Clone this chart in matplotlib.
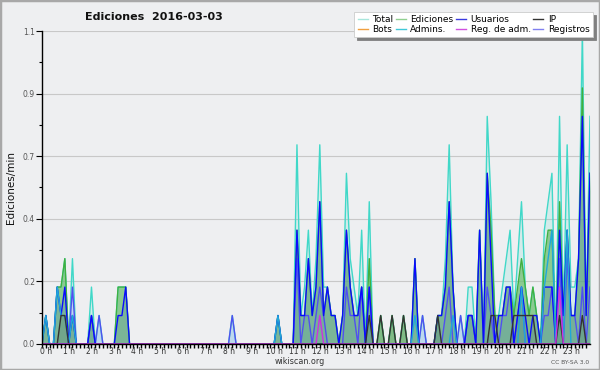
import numpy as np
import matplotlib.pyplot as plt
from matplotlib.lines import Line2D
from matplotlib.patches import Rectangle
import matplotlib.transforms as mtransforms

# edits per 10-minute bin, 145 bins from 0:00 to 24:00 (value/min = count/10)
total = [
    0, 1, 0, 0, 2, 2,  3, 0, 3, 0, 0, 0,  0, 2, 0, 1, 0, 0,  0, 0, 2, 2, 2, 0,
    0, 0, 0, 0, 0, 0,  0, 0, 0, 0, 0, 0,  0, 0, 0, 0, 0, 0,  0, 0, 0, 0, 0, 0,
    0, 0, 1, 0, 0, 0,  0, 0, 0, 0, 0, 0,  0, 0, 1, 0, 0, 0,  0, 7, 1, 2, 4, 1,
    3, 7, 2, 2, 1, 1,  0, 1, 6, 3, 2, 1,  4, 0, 5, 0, 0, 1,  0, 0, 1, 0, 0, 1,
    0, 0, 3, 0, 1, 0,  0, 0, 1, 1, 3, 7,  2, 0, 1, 0, 2, 2,  0, 4, 0, 8, 5, 1,
    1, 2, 3, 4, 1, 3,  5, 2, 1, 2, 1, 0,  4, 5, 6, 0, 8, 1,  7, 2, 2, 3, 11, 1,
    8,
]
ediciones = [
    0, 1, 0, 0, 2, 2,  3, 0, 1, 0, 0, 0,  0, 1, 0, 0, 0, 0,  0, 0, 2, 2, 2, 0,
    0, 0, 0, 0, 0, 0,  0, 0, 0, 0, 0, 0,  0, 0, 0, 0, 0, 0,  0, 0, 0, 0, 0, 0,
    0, 0, 0, 0, 0, 0,  0, 0, 0, 0, 0, 0,  0, 0, 1, 0, 0, 0,  0, 4, 1, 1, 3, 1,
    2, 5, 1, 2, 1, 1,  0, 1, 4, 2, 1, 1,  2, 0, 3, 0, 0, 1,  0, 0, 1, 0, 0, 1,
    0, 0, 3, 0, 0, 0,  0, 0, 1, 1, 2, 5,  2, 0, 0, 0, 1, 1,  0, 4, 0, 6, 4, 1,
    1, 1, 2, 2, 1, 2,  3, 2, 1, 2, 1, 0,  3, 4, 4, 0, 5, 1,  4, 1, 1, 3, 9, 1,
    6,
]
usuarios = [
    0, 1, 0, 0, 2, 1,  2, 0, 1, 0, 0, 0,  0, 1, 0, 0, 0, 0,  0, 0, 1, 1, 2, 0,
    0, 0, 0, 0, 0, 0,  0, 0, 0, 0, 0, 0,  0, 0, 0, 0, 0, 0,  0, 0, 0, 0, 0, 0,
    0, 0, 0, 0, 0, 0,  0, 0, 0, 0, 0, 0,  0, 0, 1, 0, 0, 0,  0, 4, 1, 1, 3, 1,
    2, 5, 1, 2, 1, 1,  0, 1, 4, 2, 1, 1,  2, 0, 2, 0, 0, 0,  0, 0, 0, 0, 0, 0,
    0, 0, 3, 0, 0, 0,  0, 0, 1, 1, 2, 5,  2, 0, 0, 0, 1, 1,  0, 4, 0, 6, 3, 0,
    1, 1, 2, 2, 0, 1,  2, 1, 0, 1, 1, 0,  2, 2, 2, 0, 4, 1,  4, 1, 1, 3, 8, 1,
    6,
]
ip = [
    0, 0, 0, 0, 0, 1,  1, 0, 0, 0, 0, 0,  0, 0, 0, 0, 0, 0,  0, 0, 0, 0, 0, 0,
    0, 0, 0, 0, 0, 0,  0, 0, 0, 0, 0, 0,  0, 0, 0, 0, 0, 0,  0, 0, 0, 0, 0, 0,
    0, 0, 0, 0, 0, 0,  0, 0, 0, 0, 0, 0,  0, 0, 0, 0, 0, 0,  0, 0, 0, 0, 0, 0,
    0, 0, 0, 0, 0, 0,  0, 0, 0, 0, 0, 0,  0, 0, 1, 0, 0, 1,  0, 0, 1, 0, 0, 1,
    0, 0, 0, 0, 0, 0,  0, 0, 1, 0, 0, 0,  0, 0, 0, 0, 0, 0,  0, 0, 0, 0, 1, 1,
    0, 0, 0, 0, 1, 1,  1, 1, 1, 1, 0, 0,  0, 0, 0, 0, 1, 0,  0, 0, 0, 0, 1, 0,
    0,
]
admins = [
    0, 1, 0, 0, 2, 1,  1, 0, 1, 0, 0, 0,  0, 0, 0, 0, 0, 0,  0, 0, 0, 0, 0, 0,
    0, 0, 0, 0, 0, 0,  0, 0, 0, 0, 0, 0,  0, 0, 0, 0, 0, 0,  0, 0, 0, 0, 0, 0,
    0, 0, 0, 0, 0, 0,  0, 0, 0, 0, 0, 0,  0, 0, 1, 0, 0, 0,  0, 0, 0, 0, 0, 0,
    0, 0, 0, 0, 0, 0,  0, 0, 0, 0, 0, 0,  0, 0, 0, 0, 0, 0,  0, 0, 0, 0, 0, 0,
    0, 0, 1, 0, 0, 0,  0, 0, 0, 0, 0, 0,  1, 0, 0, 0, 0, 0,  0, 0, 0, 0, 0, 0,
    0, 0, 0, 0, 0, 0,  2, 0, 0, 0, 0, 0,  2, 3, 4, 0, 0, 0,  4, 0, 0, 0, 0, 0,
    0,
]
registros = [
    0, 0, 0, 0, 0, 0,  0, 0, 2, 0, 0, 0,  0, 1, 0, 1, 0, 0,  0, 0, 0, 0, 0, 0,
    0, 0, 0, 0, 0, 0,  0, 0, 0, 0, 0, 0,  0, 0, 0, 0, 0, 0,  0, 0, 0, 0, 0, 0,
    0, 0, 1, 0, 0, 0,  0, 0, 0, 0, 0, 0,  0, 0, 0, 0, 0, 0,  0, 3, 0, 1, 1, 0,
    1, 2, 1, 0, 0, 0,  0, 0, 2, 1, 1, 0,  2, 0, 2, 0, 0, 0,  0, 0, 0, 0, 0, 0,
    0, 0, 0, 0, 1, 0,  0, 0, 0, 0, 1, 2,  0, 0, 1, 0, 1, 1,  0, 0, 0, 2, 1, 0,
    0, 1, 1, 2, 0, 1,  2, 0, 0, 0, 0, 0,  1, 1, 2, 0, 3, 0,  3, 1, 1, 0, 2, 0,
    2,
]
reg_adm = [0] * 145
reg_adm[73] = 1
reg_adm[136] = 2

hour_labels = [f"{h} h" for h in range(24)]

BG = "#eeeff1"
hours = np.arange(len(total)) / 6.0

def per_min(counts):
    return np.array(counts) / 10.0

fig = plt.figure(figsize=(6, 3.7), dpi=100, facecolor=BG)
ax = fig.add_axes([0.07, 0.0703, 0.9133, 0.8459], facecolor=BG)

# fills
ax.fill_between(hours, per_min(total), color="#40d8c8", alpha=0.15, lw=0)
ax.fill_between(hours, per_min(registros), color="#a8c8f0", alpha=0.5, lw=0)
ax.fill_between(hours, per_min(ediciones), color="#6cbc6c", alpha=0.7, lw=0)
ax.fill_between(hours, per_min(usuarios), color="#2040c0", alpha=0.15, lw=0)
ax.fill_between(hours, per_min(ip), color="#000000", alpha=0.08, lw=0)

# lines
ax.plot(hours, per_min(total), color="#40d8c8", lw=1.0)
ax.plot(hours, per_min(ediciones), color="#40b040", lw=1.0)
ax.plot(hours, per_min(registros), color="#5050f0", lw=1.0)
ax.plot(hours, per_min(usuarios), color="#0a0aff", lw=1.0)
ax.plot(hours, per_min(admins), color="#20a8d8", lw=1.0)
ax.plot(hours, per_min(ip), color="#333333", lw=1.0)
ax.plot(hours, per_min(reg_adm), color="#d030e0", lw=1.0)

# axes
ax.set_xlim(0, 24)
ax.set_ylim(0, 1.1)
yt = np.linspace(0, 1.1, 6)
ax.set_yticks(yt)
ax.set_yticklabels([f"{v:.1f}" for v in yt])
ax.set_yticks(yt[:-1] + 0.11, minor=True)
ax.set_xticks(np.arange(24))
ax.set_xticklabels(hour_labels)
ax.set_xticks(np.arange(0, 24, 1 / 6), minor=True)
ax.tick_params(axis="x", which="both", length=3.0, width=1.0, pad=-1.0,
               labelsize=5.5, labelcolor="#333333")
ax.tick_params(axis="y", which="major", length=4, width=0.8, pad=1,
               labelsize=5.5, labelcolor="#555555")
ax.tick_params(axis="y", which="minor", length=2.5, width=0.8)
offset = mtransforms.ScaledTranslation(3 / 72, 0, fig.dpi_scale_trans)
for lbl in ax.get_xticklabels():
    lbl.set_transform(lbl.get_transform() + offset)

ax.grid(axis="y", color="#c8c8c8", lw=0.8)
ax.set_axisbelow(True)
for s in ["top", "right"]:
    ax.spines[s].set_visible(False)
for s in ["left", "bottom"]:
    ax.spines[s].set_linewidth(1.0)

ax.set_ylabel("Ediciones/min", fontsize=7.5, labelpad=5, color="#111111")

fig.text(0.257, 0.955, "Ediciones  2016-03-03", ha="center", va="center",
         fontsize=8, fontweight="bold", color="#111111")
fig.text(0.5, 0.0235, "wikiscan.org", ha="center", va="center",
         fontsize=5.8, color="#333333")
fig.text(0.982, 0.0203, "CC BY-SA 3.0", ha="right", va="center",
         fontsize=4.3, color="#555555")

# legend (column order)
names = ["Total", "Bots", "Ediciones", "Admins.", "Usuarios",
         "Reg. de adm.", "IP", "Registros"]
colors = ["#a8e6dc", "#f0a040", "#90d090", "#40c8d8", "#3a3ae0",
          "#d050e0", "#333333", "#8080f0"]
handles = [Line2D([], [], color=c, lw=1.0) for c in colors]
leg = fig.legend(handles, names, ncol=4, loc="upper right",
                 bbox_to_anchor=(0.988, 0.968), fontsize=6.5, frameon=True,
                 fancybox=False, shadow={"color": "#808080", "alpha": 1},
                 handlelength=1.1, handletextpad=0.5, columnspacing=0.3,
                 labelspacing=0.1, borderpad=0.35, borderaxespad=0)
leg.get_frame().set_facecolor("white")
leg.get_frame().set_edgecolor("#cccccc")
leg.get_frame().set_linewidth(0.6)

fig.patches.append(Rectangle((0, 0), 1, 1, transform=fig.transFigure,
                             fill=False, edgecolor="#a8a8a8", lw=2.5))

fig.savefig("out.png", dpi=100, facecolor=BG)
